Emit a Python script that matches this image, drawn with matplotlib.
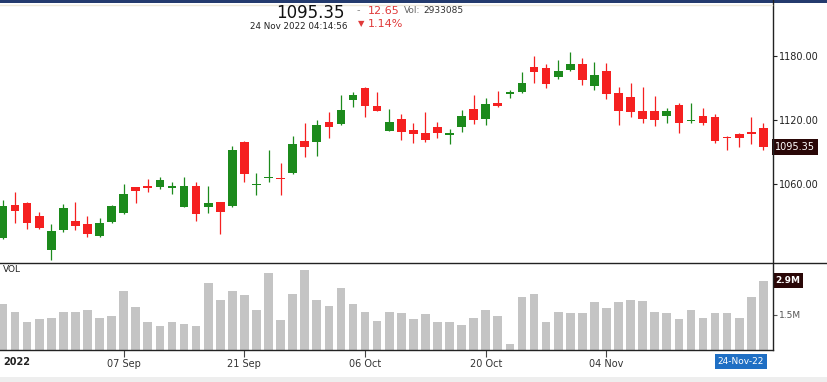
import matplotlib
matplotlib.use('Agg')
import matplotlib.pyplot as plt
from matplotlib.lines import Line2D
from matplotlib.patches import Rectangle
import numpy as np
import pandas as pd

# daily sessions shown on the chart
dates = ['2022-08-23', '2022-08-24', '2022-08-25', '2022-08-26', '2022-08-29', '2022-08-30',
         '2022-09-01', '2022-09-02', '2022-09-05', '2022-09-06', '2022-09-07', '2022-09-08',
         '2022-09-09', '2022-09-12', '2022-09-13', '2022-09-14', '2022-09-15', '2022-09-16',
         '2022-09-19', '2022-09-20', '2022-09-21', '2022-09-22', '2022-09-23', '2022-09-26',
         '2022-09-27', '2022-09-28', '2022-09-29', '2022-09-30', '2022-10-03', '2022-10-04',
         '2022-10-06', '2022-10-07', '2022-10-10', '2022-10-11', '2022-10-12', '2022-10-13',
         '2022-10-14', '2022-10-17', '2022-10-18', '2022-10-19', '2022-10-20', '2022-10-21',
         '2022-10-24', '2022-10-25', '2022-10-27', '2022-10-28', '2022-10-31', '2022-11-01',
         '2022-11-02', '2022-11-03', '2022-11-04', '2022-11-07', '2022-11-09', '2022-11-10',
         '2022-11-11', '2022-11-14', '2022-11-15', '2022-11-16', '2022-11-17', '2022-11-18',
         '2022-11-21', '2022-11-22', '2022-11-23', '2022-11-24']

opens = [1010, 1041, 1043, 1030, 999, 1017, 1025.5, 1023, 1012, 1024.5,
         1033, 1057.5, 1059, 1057.5, 1057.5, 1039, 1059, 1038.5, 1043.5, 1040,
         1100, 1060, 1066.5, 1066, 1070.5, 1101, 1100, 1119, 1116.5, 1139,
         1150, 1134, 1110, 1121.5, 1111, 1108, 1114, 1107, 1113.5, 1131,
         1121.5, 1136, 1145.5, 1147, 1170, 1169, 1160.5, 1167.5, 1173, 1152.5,
         1166.5, 1145.5, 1142, 1129, 1129, 1124.5, 1134.5, 1119.5, 1124, 1123,
         1104, 1107, 1108.5, 1113]
highs = [1045, 1053, 1044, 1034, 1023, 1042, 1044, 1030.5, 1029, 1041,
         1060.5, 1058, 1065, 1067, 1062, 1067, 1062, 1058.5, 1044, 1096.5,
         1100.5, 1070.5, 1092, 1080.5, 1105, 1117.5, 1120.5, 1127.5, 1144, 1146.5,
         1151, 1146.5, 1131, 1126, 1117.5, 1127.5, 1119, 1112, 1130, 1144,
         1141, 1148, 1149, 1165, 1180, 1173, 1177, 1184, 1178.5, 1175,
         1174, 1151, 1155, 1151, 1143, 1132, 1136, 1136, 1132, 1126,
         1105.5, 1108, 1123.5, 1118]
lows = [1009, 1024, 1018, 1018, 989, 1015, 1017, 1010.5, 1011, 1024,
        1032, 1043, 1053, 1055.5, 1051, 1038.5, 1026, 1033, 1014, 1038.5,
        1062.5, 1050, 1062.5, 1050, 1070, 1086, 1087, 1104, 1116, 1132.5,
        1123, 1128.5, 1110, 1101.5, 1098.5, 1100, 1104, 1098, 1109.5, 1116.5,
        1116, 1132.5, 1141.5, 1146, 1155.5, 1150, 1158.5, 1166.5, 1153, 1149,
        1140, 1116, 1123.5, 1117.5, 1115, 1118, 1108.5, 1117.5, 1116, 1099,
        1092.5, 1095.5, 1098, 1092]
closes = [1040, 1035, 1024, 1019.5, 1016, 1038, 1021, 1014, 1024, 1040,
          1051, 1054, 1056.5, 1064, 1058, 1059, 1032, 1043, 1034.5, 1092,
          1070, 1060.5, 1067, 1065.5, 1098, 1095.5, 1116, 1113.5, 1130, 1144,
          1134, 1129, 1118.5, 1109.5, 1107.5, 1102, 1108, 1107.5, 1124.5, 1120.5,
          1135.5, 1134, 1146, 1155.5, 1165, 1154, 1166.5, 1173, 1158, 1162.5,
          1145, 1129, 1128, 1121, 1120, 1129, 1117.5, 1120, 1118, 1101,
          1103.5, 1103.5, 1108, 1095.35]
volume_m = [1.93, 1.62, 1.20, 1.31, 1.35, 1.62, 1.59, 1.69, 1.34, 1.42,
            2.50, 1.80, 1.17, 1.00, 1.20, 1.10, 1.02, 2.84, 2.10, 2.50,
            2.31, 1.69, 3.26, 1.27, 2.38, 3.40, 2.10, 1.88, 2.61, 1.96,
            1.61, 1.24, 1.61, 1.58, 1.31, 1.51, 1.20, 1.17, 1.04, 1.34,
            1.69, 1.42, 0.25, 2.23, 2.38, 1.17, 1.61, 1.55, 1.55, 2.04,
            1.76, 2.03, 2.10, 2.07, 1.59, 1.55, 1.31, 1.69, 1.34, 1.55,
            1.55, 1.35, 2.23, 2.933085]

price_ticks = [1060, 1120, 1180]
vol_ticks = [1.5]
date_ticks = ['2022-09-07', '2022-09-21', '2022-10-06', '2022-10-20', '2022-11-04']

last_price = '1095.35'
change_abs = '12.65'
change_pct = '1.14%'
last_volume = '2933085'
stamp = '24 Nov 2022 04:14:56'

GREEN = '#1c8a1c'
RED = '#f52020'
VOL_GRAY = '#c4c4c4'
BOX_DARK = '#2a0707'

W, H = 827, 382
fig = plt.figure(figsize=(W / 100, H / 100), dpi=100)
fig.patch.set_facecolor('white')


def box(x0, y0, x1, y1):
    # pixel box (top-left origin) -> figure rect
    return [x0 / W, 1 - y1 / H, (x1 - x0) / W, (y1 - y0) / H]


ax = fig.add_axes(box(0, 4, 773, 263))
axv = fig.add_axes(box(0, 263, 773, 350))

d = pd.to_datetime(dates)
x = np.arange(len(d))
o = np.array(opens)
c = np.array(closes)
up = c >= o
colors = np.where(up, GREEN, RED)

# candles
ax.vlines(x, lows, highs, colors=colors, lw=0.9)
body = np.abs(c - o)
flat = body < 1.2
bottoms = np.where(flat, (o + c) / 2 - 0.6, np.minimum(o, c))
heights = np.where(flat, 1.2, body)
ax.bar(x, heights, bottom=bottoms, width=0.72, color=colors, linewidth=0)

ax.set_xlim(-0.25, 63.8)
ax.set_ylim(986.4, 1229.2)
for s in ['top', 'left', 'bottom', 'right']:
    ax.spines[s].set_visible(False)
ax.set_xticks([])
ax.yaxis.tick_right()
ax.set_yticks(price_ticks)
ax.set_yticklabels([f'{v:.2f}' for v in price_ticks])
ax.tick_params(axis='y', length=3, width=0.8, pad=1.5, labelsize=7, colors='#222222')

ax.text(1.003, c[-1], last_price, transform=ax.get_yaxis_transform(),
        ha='left', va='center', fontsize=7, color='white', clip_on=False,
        bbox=dict(boxstyle='square,pad=0.3', fc=BOX_DARK, ec='none'))

# volume
axv.bar(x, volume_m, width=0.72, color=VOL_GRAY, linewidth=0)
axv.set_xlim(-0.25, 63.8)
axv.set_ylim(0, 3.68)
for s in ['top', 'left', 'right']:
    axv.spines[s].set_visible(False)
axv.spines['bottom'].set_color('#222222')
axv.spines['bottom'].set_linewidth(1)
axv.yaxis.tick_right()
axv.set_yticks(vol_ticks)
axv.set_yticklabels([f'{v}M' for v in vol_ticks])
axv.tick_params(axis='y', length=3, width=0.8, pad=1.5, labelsize=6.5, colors='#555555')

tick_idx = [int(np.where(d == pd.Timestamp(t))[0][0]) for t in date_ticks]
axv.set_xticks(tick_idx)
axv.set_xticklabels([d[i].strftime('%d %b') for i in tick_idx])
axv.tick_params(axis='x', length=5, width=0.8, pad=1.5, labelsize=7,
                colors='#444444', labelcolor='#333333')

axv.text(1.003, volume_m[-1], '2.9M', transform=axv.get_yaxis_transform(),
         ha='left', va='center', fontsize=6.5, color='white', fontweight='bold',
         clip_on=False, bbox=dict(boxstyle='square,pad=0.3', fc=BOX_DARK, ec='none'))
axv.text(x[-1] + 0.05, -0.13, d[-1].strftime('%d-%b-%y'), transform=axv.get_xaxis_transform(),
         ha='right', va='center', fontsize=6.5, color='white', clip_on=False,
         bbox=dict(boxstyle='square,pad=0.3', fc='#1f6fc4', ec='none'))
axv.text(0.004, 0.93, 'VOL', transform=axv.transAxes, ha='left', va='center',
         fontsize=6.5, color='#222222')

fig.text(3 / W, 1 - 362 / H, '2022', ha='left', va='center', fontsize=7,
         fontweight='bold', color='#222222')

# frame lines
fig.add_artist(Line2D([0, 1], [1 - 263 / H] * 2, color='#222222', lw=1))
fig.add_artist(Line2D([772.5 / W] * 2, [1 - 350 / H, 1], color='#222222', lw=1))
fig.add_artist(Rectangle((0, 1 - 2.5 / H), 1, 2.5 / H, color='#243b6e', lw=0))
fig.add_artist(Line2D([0, 772 / W], [1 - 5 / H] * 2, color='#efeadb', lw=1))
fig.add_artist(Rectangle((0, 0), 1, 5 / H, color='#eeeeee', lw=0))

# header
fig.text(345 / W, 1 - 18 / H, last_price, ha='right', va='baseline', fontsize=12, color='#111111')
fig.text(347 / W, 1 - 29 / H, stamp, ha='right', va='baseline', fontsize=6.3, color='#222222')
fig.text(357 / W, 1 - 10.5 / H, '-', ha='left', va='center', fontsize=7, color='#888888')
fig.text(368 / W, 1 - 10.5 / H, change_abs, ha='left', va='center', fontsize=8, color='#e03a3a')
fig.text(404 / W, 1 - 10.5 / H, 'Vol:', ha='left', va='center', fontsize=6.5, color='#666666')
fig.text(423 / W, 1 - 10.5 / H, last_volume, ha='left', va='center', fontsize=6.5, color='#333333')
fig.text(358 / W, 1 - 24 / H, '\u25bc', ha='left', va='center', fontsize=6, color='#e03a3a')
fig.text(368 / W, 1 - 24 / H, change_pct, ha='left', va='center', fontsize=8, color='#e03a3a')

fig.savefig('out.png', dpi=100)
